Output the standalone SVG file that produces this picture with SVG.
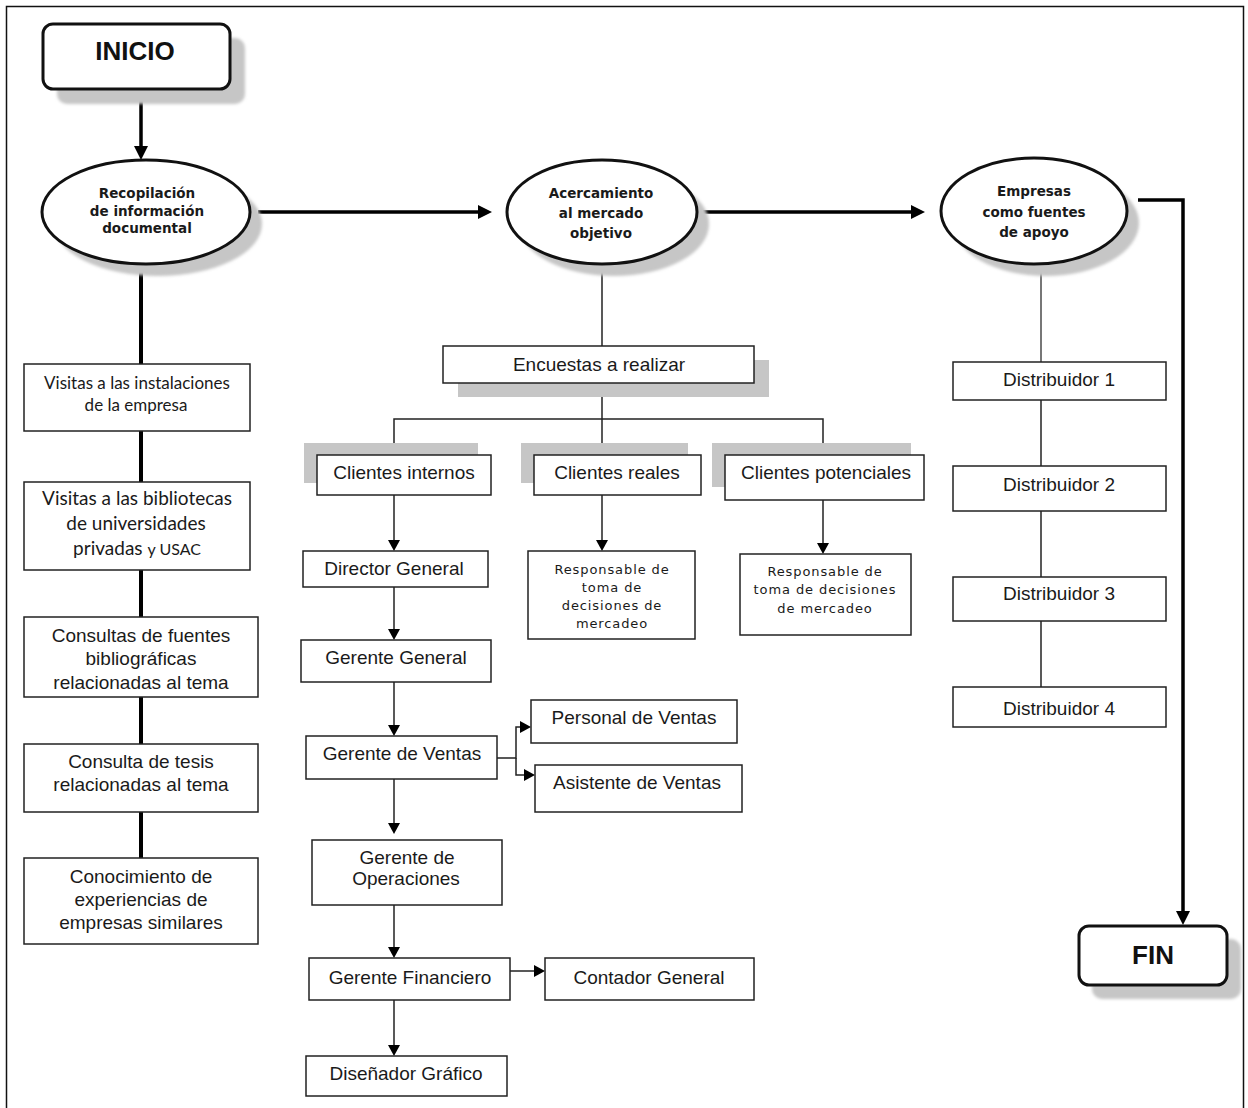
<svg xmlns="http://www.w3.org/2000/svg" width="1248" height="1108" viewBox="0 0 1248 1108">
<defs>
<style>
.box{fill:#fff;stroke:#222;stroke-width:1.5}
.term{fill:#fff;stroke:#111;stroke-width:3}
.ell{fill:#fff;stroke:#111;stroke-width:3}
.sh{fill:#c6c6c6}
.t{font-family:"Liberation Sans",Arial,sans-serif;font-size:19px;fill:#1a1a1a;text-anchor:middle}
.tc{font-family:Lato,"Open Sans",sans-serif;fill:#1a1a1a;text-anchor:middle}
.te{font-family:"DejaVu Sans",Verdana,sans-serif;font-weight:bold;font-size:13.5px;fill:#1a1a1a;text-anchor:middle}
.ts{font-family:"DejaVu Sans",Verdana,sans-serif;font-size:13px;letter-spacing:0.9px;fill:#1a1a1a;text-anchor:middle}
.tb{font-family:"Liberation Sans",Arial,sans-serif;font-weight:bold;font-size:26px;fill:#111;text-anchor:middle}
.thick{stroke:#000;stroke-width:3.5;fill:none}
.spine{stroke:#000;stroke-width:4;fill:none}
.thin{stroke:#222;stroke-width:1.5;fill:none}
</style>
<marker id="ah" viewBox="0 0 10 10" refX="0" refY="5" markerWidth="14" markerHeight="14" markerUnits="userSpaceOnUse" orient="auto"><path d="M0,0 L10,5 L0,10 z" fill="#000"/></marker>
<marker id="as" viewBox="0 0 10 10" refX="0" refY="5" markerWidth="11" markerHeight="12" markerUnits="userSpaceOnUse" orient="auto" preserveAspectRatio="none"><path d="M0,0 L10,5 L0,10 z" fill="#000"/></marker>
<filter id="blur" x="-10%" y="-10%" width="120%" height="120%"><feGaussianBlur stdDeviation="1.5"/></filter>
</defs>
<rect x="0" y="0" width="1248" height="1108" fill="#fff"/>
<rect x="6.5" y="6.5" width="1237" height="1110" fill="none" stroke="#111" stroke-width="1.5"/>

<g id="connectors">
<line class="thick" x1="141" y1="89" x2="141" y2="146" marker-end="url(#ah)"/>
<line class="thick" x1="258" y1="212" x2="478" y2="212" marker-end="url(#ah)"/>
<line class="thick" x1="703" y1="212" x2="911" y2="212" marker-end="url(#ah)"/>
<path class="thick" d="M1138,200 H1183 V911" marker-end="url(#ah)"/>
<line class="spine" x1="141" y1="265" x2="141" y2="364"/>
<line class="spine" x1="141" y1="431" x2="141" y2="482"/>
<line class="spine" x1="141" y1="570" x2="141" y2="617"/>
<line class="spine" x1="141" y1="697" x2="141" y2="744"/>
<line class="spine" x1="141" y1="812" x2="141" y2="858"/>
<line class="thin" x1="602" y1="265" x2="602" y2="346"/>
<line class="thin" x1="602" y1="383" x2="602" y2="444" marker-end="url(#as)"/>
<path class="thin" d="M602,419 H394 V444" marker-end="url(#as)"/>
<path class="thin" d="M602,419 H823 V444" marker-end="url(#as)"/>
<line class="thin" x1="394" y1="495" x2="394" y2="540" marker-end="url(#as)"/>
<line class="thin" x1="602" y1="495" x2="602" y2="540" marker-end="url(#as)"/>
<line class="thin" x1="823" y1="500" x2="823" y2="543" marker-end="url(#as)"/>
<line class="thin" x1="394" y1="587" x2="394" y2="629" marker-end="url(#as)"/>
<line class="thin" x1="394" y1="682" x2="394" y2="725" marker-end="url(#as)"/>
<path class="thin" d="M497,758 H516 V727 H520" marker-end="url(#as)"/>
<path class="thin" d="M516,758 V775 H524" marker-end="url(#as)"/>
<line class="thin" x1="394" y1="779" x2="394" y2="823" marker-end="url(#as)"/>
<line class="thin" x1="394" y1="905" x2="394" y2="947" marker-end="url(#as)"/>
<line class="thin" x1="510" y1="971" x2="534" y2="971" marker-end="url(#as)"/>
<line class="thin" x1="394" y1="1000" x2="394" y2="1045" marker-end="url(#as)"/>
<line x1="1041" y1="265" x2="1041" y2="362" stroke="#777" stroke-width="2"/>
<line class="thin" x1="1041" y1="400" x2="1041" y2="466"/>
<line class="thin" x1="1041" y1="511" x2="1041" y2="577"/>
<line class="thin" x1="1041" y1="621" x2="1041" y2="687"/>
</g>

<g id="inicio">
<rect class="sh" x="57" y="38" width="188" height="66" rx="10" filter="url(#blur)"/>
<rect class="term" x="43" y="24" width="187" height="65" rx="10"/>
<text class="tb" x="135" y="60">INICIO</text>
</g>
<g id="fin">
<rect class="sh" x="1092" y="939" width="149" height="60" rx="10" filter="url(#blur)"/>
<rect class="term" x="1079" y="926" width="148" height="59" rx="10"/>
<text class="tb" x="1153" y="964">FIN</text>
</g>

<g id="recopilacion">
<ellipse class="sh" cx="158" cy="224" rx="104" ry="52" filter="url(#blur)"/>
<ellipse class="ell" cx="146" cy="212" rx="104" ry="52"/>
<text class="te" x="147" y="198">Recopilación</text>
<text class="te" x="147" y="216">de información</text>
<text class="te" x="147" y="233">documental</text>
</g>
<g id="acercamiento">
<ellipse class="sh" cx="614" cy="224" rx="95" ry="52" filter="url(#blur)"/>
<ellipse class="ell" cx="602" cy="212" rx="95" ry="52"/>
<text class="te" x="601" y="198">Acercamiento</text>
<text class="te" x="601" y="218">al mercado</text>
<text class="te" x="601" y="238">objetivo</text>
</g>
<g id="empresas">
<ellipse class="sh" cx="1046" cy="223" rx="93" ry="53" filter="url(#blur)"/>
<ellipse class="ell" cx="1034" cy="211" rx="93" ry="53"/>
<text class="te" x="1034" y="196">Empresas</text>
<text class="te" x="1034" y="217">como fuentes</text>
<text class="te" x="1034" y="237">de apoyo</text>
</g>

<g id="visitas-instalaciones">
<rect class="box" x="24" y="364" width="226" height="67"/>
<text class="tc" font-size="17" x="137" y="389">Visitas a las instalaciones</text>
<text class="tc" font-size="17" x="136" y="411">de la empresa</text>
</g>
<g id="visitas-bibliotecas">
<rect class="box" x="24" y="482" width="226" height="88"/>
<text class="tc" font-size="19" x="137" y="505">Visitas a las bibliotecas</text>
<text class="tc" font-size="19" x="136" y="530">de universidades</text>
<text class="tc" font-size="19" x="137" y="555">privadas <tspan font-size="16">y USAC</tspan></text>
</g>
<g id="consultas-fuentes">
<rect class="box" x="24" y="617" width="234" height="80"/>
<text class="t" x="141" y="642">Consultas de fuentes</text>
<text class="t" x="141" y="665">bibliográficas</text>
<text class="t" x="141" y="689">relacionadas al tema</text>
</g>
<g id="consulta-tesis">
<rect class="box" x="24" y="744" width="234" height="68"/>
<text class="t" x="141" y="768">Consulta de tesis</text>
<text class="t" x="141" y="791">relacionadas al tema</text>
</g>
<g id="conocimiento">
<rect class="box" x="24" y="858" width="234" height="86"/>
<text class="t" x="141" y="883">Conocimiento de</text>
<text class="t" x="141" y="906">experiencias de</text>
<text class="t" x="141" y="929">empresas similares</text>
</g>

<g id="encuestas">
<rect class="sh" x="458" y="360" width="311" height="37"/>
<rect class="box" x="443" y="346" width="311" height="37"/>
<text class="t" x="599" y="371">Encuestas a realizar</text>
</g>
<g id="clientes-internos">
<rect class="sh" x="304" y="443" width="174" height="40"/>
<rect class="box" x="317" y="455" width="174" height="40"/>
<text class="t" x="404" y="479">Clientes internos</text>
</g>
<g id="clientes-reales">
<rect class="sh" x="521" y="443" width="167" height="40"/>
<rect class="box" x="534" y="455" width="167" height="40"/>
<text class="t" x="617" y="479">Clientes reales</text>
</g>
<g id="clientes-potenciales">
<rect class="sh" x="712" y="443" width="199" height="44"/>
<rect class="box" x="725" y="455" width="199" height="45"/>
<text class="t" x="826" y="479">Clientes potenciales</text>
</g>

<g id="director-general">
<rect class="box" x="303" y="551" width="185" height="36"/>
<text class="t" x="394" y="575">Director General</text>
</g>
<g id="gerente-general">
<rect class="box" x="301" y="640" width="190" height="42"/>
<text class="t" x="396" y="664">Gerente General</text>
</g>
<g id="gerente-ventas">
<rect class="box" x="306" y="736" width="191" height="43"/>
<text class="t" x="402" y="760">Gerente de Ventas</text>
</g>
<g id="personal-ventas">
<rect class="box" x="531" y="700" width="206" height="43"/>
<text class="t" x="634" y="724">Personal de Ventas</text>
</g>
<g id="asistente-ventas">
<rect class="box" x="535" y="765" width="207" height="47"/>
<text class="t" x="637" y="789">Asistente de Ventas</text>
</g>
<g id="gerente-operaciones">
<rect class="box" x="312" y="840" width="190" height="65"/>
<text class="t" x="407" y="864">Gerente de</text>
<text class="t" x="406" y="885">Operaciones</text>
</g>
<g id="gerente-financiero">
<rect class="box" x="309" y="958" width="201" height="42"/>
<text class="t" x="410" y="984">Gerente Financiero</text>
</g>
<g id="contador-general">
<rect class="box" x="545" y="958" width="209" height="42"/>
<text class="t" x="649" y="984">Contador General</text>
</g>
<g id="disenador-grafico">
<rect class="box" x="306" y="1056" width="201" height="40"/>
<text class="t" x="406" y="1080">Diseñador Gráfico</text>
</g>

<g id="responsable-reales">
<rect class="box" x="528" y="551" width="167" height="88"/>
<text class="ts" x="612" y="574">Responsable de</text>
<text class="ts" x="612" y="592">toma de</text>
<text class="ts" x="612" y="610">decisiones de</text>
<text class="ts" x="612" y="628">mercadeo</text>
</g>
<g id="responsable-potenciales">
<rect class="box" x="740" y="554" width="171" height="81"/>
<text class="ts" x="825" y="576">Responsable de</text>
<text class="ts" x="825" y="594">toma de decisiones</text>
<text class="ts" x="825" y="613">de mercadeo</text>
</g>

<g id="distribuidor-1">
<rect class="box" x="953" y="362" width="213" height="38"/>
<text class="t" x="1059" y="386">Distribuidor 1</text>
</g>
<g id="distribuidor-2">
<rect class="box" x="953" y="466" width="213" height="45"/>
<text class="t" x="1059" y="491">Distribuidor 2</text>
</g>
<g id="distribuidor-3">
<rect class="box" x="953" y="577" width="213" height="44"/>
<text class="t" x="1059" y="600">Distribuidor 3</text>
</g>
<g id="distribuidor-4">
<rect class="box" x="953" y="687" width="213" height="40"/>
<text class="t" x="1059" y="715">Distribuidor 4</text>
</g>
</svg>
